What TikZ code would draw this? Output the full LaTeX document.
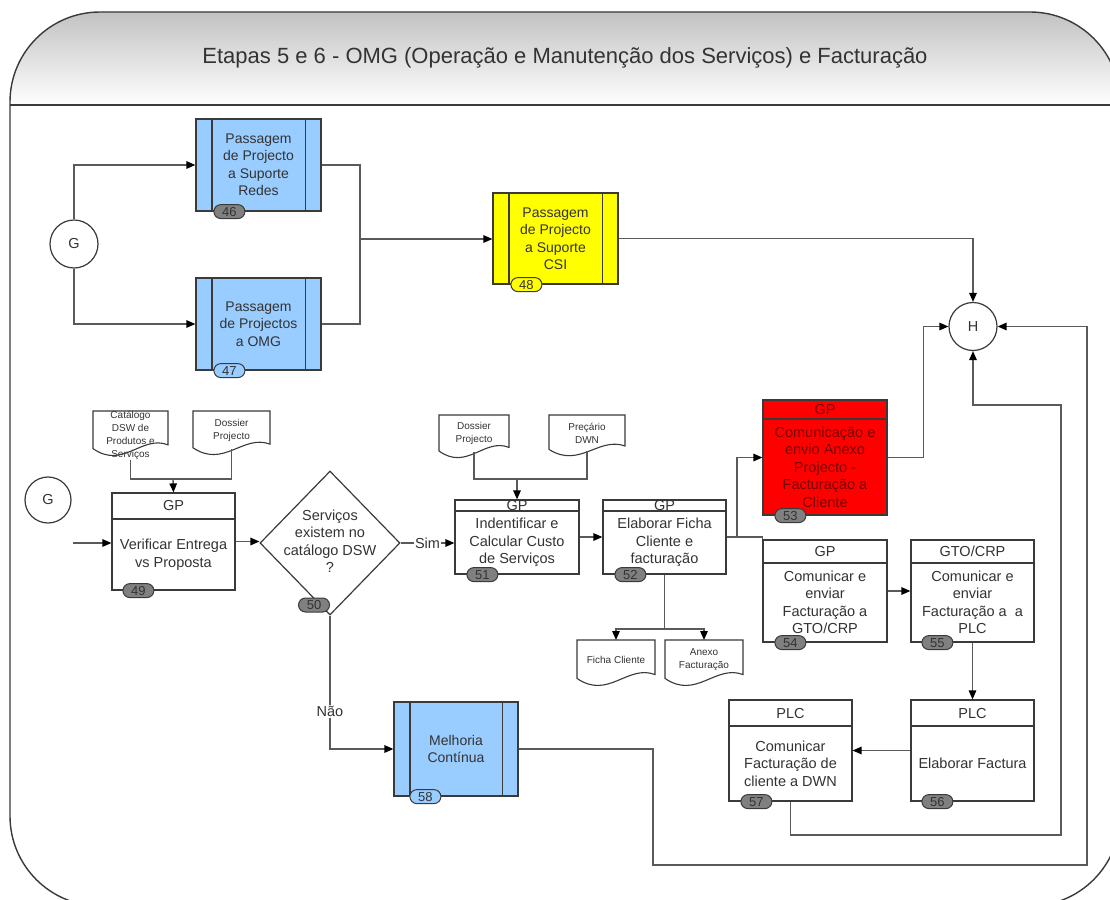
\documentclass[tikz,border=0pt]{standalone}
\usepackage{fontspec}
\setmainfont{Liberation Sans}
\usetikzlibrary{arrows.meta,shapes.geometric,calc}

\definecolor{ink}{HTML}{333333}
\definecolor{wire}{HTML}{5A5A5A}
\definecolor{edge}{HTML}{3A3A3A}
\definecolor{skyfill}{HTML}{99CCFF}
\definecolor{lemon}{HTML}{FFFF00}
\definecolor{alarm}{HTML}{FF0000}
\definecolor{alarmtext}{HTML}{7A0000}
\definecolor{tag}{HTML}{808080}

\tikzset{
  wireline/.style={draw=wire, line width=1.4pt},
  conn/.style={wireline, -{Triangle[length=9pt,width=7.5pt,color=black]}},
  boxframe/.style={rectangle, draw=edge, line width=1.2pt, inner sep=0pt},
  boxedge/.style={draw=edge, line width=1.2pt},
  frameline/.style={draw=edge, line width=1.4pt},
  headtext/.style={font=\fontsize{14.5}{17.5}\selectfont, inner sep=0pt},
  bodytext/.style={font=\fontsize{14.5}{17.5}\selectfont, align=center, inner sep=0pt},
  subtext/.style={font=\fontsize{14}{17.5}\selectfont, align=center, inner sep=0pt},
  doctext/.style={font=\fontsize{10}{13}\selectfont, align=center, inner sep=0pt},
  docline/.style={draw=edge, line width=1.1pt, fill=white},
  badge/.style={draw=edge, line width=1pt, fill=#1, rounded corners=7pt,
    minimum width=31pt, minimum height=14pt, inner sep=0pt,
    font=\fontsize{13}{13}\selectfont},
  badge/.default=tag,
  circ/.style={circle, draw=edge, line width=1.2pt, fill=white,
    minimum size=48pt, inner sep=0pt, font=\fontsize{14.5}{14.5}\selectfont},
  lbl/.style={fill=white, inner sep=1.5pt, font=\fontsize{14.5}{14.5}\selectfont},
}

% task box with a role header: [fill]{name}{x0}{y0}{x1}{y1}{header bottom}{role}{text}
\newcommand{\taskbox}[9][white]{%
  \pgfmathsetmacro{\tbw}{#5-#3}%
  \pgfmathsetmacro{\tbh}{#6-#4}%
  \node[boxframe, fill=#1, minimum width=\tbw pt, minimum height=\tbh pt]
    (#2) at ({(#3+#5)/2},{(#4+#6)/2}) {};
  \draw[boxedge] (#3,#7) -- (#5,#7);
  \node[headtext] (#2h) at ({(#3+#5)/2},{(#4+#7)/2}) {#8};
  \node[bodytext] (#2t) at ({(#3+#5)/2},{(#7+#6)/2}) {#9};
}

% predefined sub-process: [fill]{name}{x0}{y0}{x1}{y1}{text}
\newcommand{\subproc}[7][skyfill]{%
  \pgfmathsetmacro{\spw}{#5-#3}%
  \pgfmathsetmacro{\sph}{#6-#4}%
  \node[boxframe, fill=#1, minimum width=\spw pt, minimum height=\sph pt]
    (#2) at ({(#3+#5)/2},{(#4+#6)/2}) {};
  \draw[boxedge] ([xshift=16.5pt]#2.north west) -- ([xshift=16.5pt]#2.south west);
  \draw[boxedge] ([xshift=-16.5pt]#2.north east) -- ([xshift=-16.5pt]#2.south east);
  \node[subtext] (#2t) at (#2.center) {#7};
}

% document sheet with a wavy lower edge: {name}{x0}{y0}{x1}{y1}{text}
\newcommand{\docsheet}[6]{%
  \pgfmathsetmacro{\dsw}{#4-#2}%
  \pgfmathsetmacro{\dsh}{#5-#3}%
  \pgfmathsetmacro{\dsn}{0.82*\dsh}%
  \draw[docline] (#2,#3) -- (#4,#3) -- (#4,{#3+0.72*\dsh})
    .. controls ({#4-0.35*\dsw},{#3+0.5*\dsh}) and ({#2+0.4*\dsw},{#3+1.25*\dsh})
    .. (#2,{#3+0.8*\dsh}) -- cycle;
  \node[doctext, minimum width=\dsw pt, minimum height=\dsn pt, anchor=north]
    (#1) at ({(#2+#4)/2},#3) {#6};
}

\begin{document}
\begin{tikzpicture}[x=1pt, y=-1pt, text=ink]
\useasboundingbox (0,0) rectangle (1110,899);
\fill[white] (0,0) rectangle (1110,899);

% outer frame with shaded title band
\begin{scope}
  \clip[rounded corners=90pt] (10,12) rectangle (1120,906);
  \shade[top color=black!27, bottom color=white] (0,0) rectangle (1125,105);
\end{scope}
\draw[frameline] (10,105) -- (1120,105);
\draw[frameline, rounded corners=90pt] (10,12) rectangle (1120,906);
\node[font=\fontsize{22}{26}\selectfont] (title) at (565,58)
  {Etapas 5 e 6 - OMG (Operação e Manutenção dos Serviços) e Facturação};

% start and end events
\node[circ] (g1) at (74,244) {G};
\node[circ, minimum size=46pt] (g2) at (48,500) {G};
\node[circ] (h) at (973,326.5) {H};

% upper lane: hand-over sub-processes
\subproc{p46}{196}{119}{321}{211}{Passagem\\de Projecto\\a Suporte\\Redes}
\subproc{p47}{196}{278}{321}{370}{Passagem\\de Projectos\\a OMG}
\subproc[lemon]{p48}{493}{193}{618}{284}{Passagem\\de Projecto\\a Suporte\\CSI}
\node[badge] (b46) at ([xshift=34pt]p46.south west) {46};
\node[badge=skyfill] (b47) at ([xshift=34pt]p47.south west) {47};
\node[badge=lemon] (b48) at ([xshift=34pt]p48.south west) {48};

% documents
\docsheet{dcat}{93}{411}{168}{458}{Catálogo\\DSW de\\Produtos e\\Serviços}
\docsheet{ddos1}{193}{411}{270}{457}{Dossier\\Projecto}
\docsheet{ddos2}{439}{415}{509}{460}{Dossier\\Projecto}
\docsheet{dpre}{549}{415}{625}{458}{Preçário\\DWN}
\docsheet{dfic}{577}{640}{655}{688}{Ficha Cliente}
\docsheet{danx}{665}{640}{743}{688}{Anexo\\Facturação}

% tasks
\taskbox{p49}{112}{493}{235}{590}{519}{GP}{Verificar Entrega\\vs Proposta}
\taskbox{p51}{455}{500}{579}{574}{511}{GP}{Indentificar e\\Calcular Custo\\de Serviços}
\taskbox{p52}{603}{500}{726}{574}{511}{GP}{Elaborar Ficha\\Cliente e\\facturação}
\begin{scope}[text=alarmtext]
\taskbox[alarm]{p53}{763}{400}{887}{515}{419}{GP}{Comunicação e\\envio Anexo\\Projecto -\\Facturação a\\Cliente}
\end{scope}
\taskbox{p54}{763}{540}{887}{642}{563}{GP}{Comunicar e\\enviar\\Facturação a\\GTO/CRP}
\taskbox{p55}{911}{540}{1034}{642}{563}{GTO/CRP}{Comunicar e\\enviar\\Facturação a \ a\\PLC}
\taskbox{p56}{911}{700}{1034}{801}{726}{PLC}{Elaborar Factura}
\taskbox{p57}{729}{700}{852}{801}{726}{PLC}{Comunicar\\Facturação de\\cliente a DWN}
\subproc{p58}{394}{702}{518}{796}{Melhoria\\Contínua}

% decision
\node[diamond, draw=edge, line width=1.2pt, fill=white, minimum width=140pt,
  minimum height=144pt, inner sep=0pt] (d50) at (330,543) {};
\node[bodytext] (d50t) at (330,541) {Serviços\\existem no\\catálogo DSW\\?};

% step numbers
\node[badge] (b49) at ([xshift=27pt]p49.south west) {49};
\node[badge] (b50) at (314,605) {50};
\node[badge] (b51) at ([xshift=28pt]p51.south west) {51};
\node[badge] (b52) at ([xshift=28pt]p52.south west) {52};
\node[badge] (b53) at ([xshift=28pt]p53.south west) {53};
\node[badge] (b54) at ([xshift=28pt]p54.south west) {54};
\node[badge] (b55) at ([xshift=27pt]p55.south west) {55};
\node[badge] (b56) at ([xshift=27pt]p56.south west) {56};
\node[badge] (b57) at ([xshift=28pt]p57.south west) {57};
\node[badge=skyfill] (b58) at ([xshift=32pt]p58.south west) {58};

% junction points
\coordinate (j1) at (360,239);
\coordinate (in49) at (73,543);
\coordinate (j49) at (173,479);
\coordinate (j51) at (517,479);
\coordinate (j52) at (737,537);
\coordinate (j52b) at (664.5,629);
\coordinate (c57a) at (1061,835);
\coordinate (c57b) at (1061,405);
\coordinate (c58a) at (653,865);
\coordinate (c58b) at (1087,326.5);

% upper flow
\draw[conn] (g1.north) |- (p46.west);
\draw[conn] (g1.south) |- (p47.west);
\draw[wireline] (p46.east) -| (j1);
\draw[wireline] (p47.east) -| (j1);
\draw[conn] (j1) -- (j1 -| p48.west);
\draw[conn] (p48.east) -| (h.north);

% lower flow
\draw[conn] (in49) -- (in49 -| p49.west);
\draw[wireline] (dcat.south) |- (j49);
\draw[wireline] (ddos1.south) |- (j49);
\draw[conn] (j49) -- (p49.north);
\draw[conn] (p49.east) -- (p49.east -| d50.west);
\draw[conn] (d50.east) -- node[lbl] (sim) {Sim} (d50.east -| p51.west);
\draw[wireline] (ddos2.south) |- (j51);
\draw[wireline] (dpre.south) |- (j51);
\draw[conn] (j51) -- (p51.north);
\draw[conn] (p51.east) -- (p52.west);
\draw[wireline] (p52.east) -- (j52);
\draw[conn] (j52) |- (p53.west);
\draw[wireline] (j52) -| (p54.north west);
\draw[wireline] (p52.south) -- (j52b);
\draw[conn] (j52b) -| (dfic.north);
\draw[conn] (j52b) -| (danx.north);
\draw[conn] (p53.east) -- ++(36,0) |- (h.west);
\draw[conn] (p54.east) -- (p55.west);
\draw[conn] (p55.south) -- (p56.north);
\draw[conn] (p56.west) -- (p57.east);
\draw[conn] (p57.south) |- (c57a) -- (c57b) -| (h.south);
\draw[conn] (d50.south) |- node[lbl, pos=0.36] (nao) {Não} (p58.west);
\draw[conn] (p58.east) -| (c58a) -| (c58b) -- (h.east);
\end{tikzpicture}
\end{document}
